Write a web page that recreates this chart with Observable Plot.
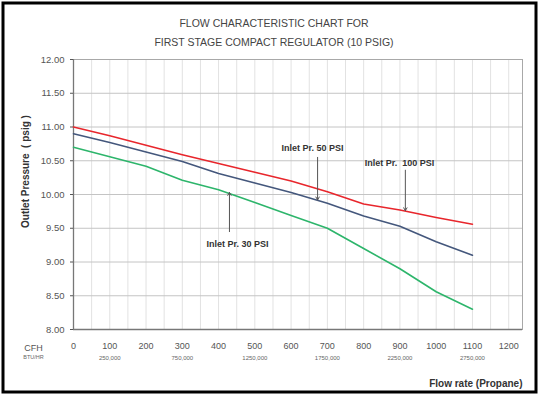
<!DOCTYPE html>
<html>
<head>
<meta charset="utf-8">
<script src="https://cdn.jsdelivr.net/npm/d3@7"></script>
<script src="https://cdn.jsdelivr.net/npm/@observablehq/plot@0.6"></script>
<style>
  html, body { margin: 0; padding: 0; background: #fff; }
  #chart svg { display: block; }
</style>
</head>
<body>
<div id="chart"></div>
<script>
// ---- data ----
const flow = [0, 100, 200, 300, 400, 500, 600, 700, 800, 900, 1000, 1100];
const inlet100 = [11.0, 10.87, 10.73, 10.59, 10.46, 10.33, 10.2, 10.04, 9.86, 9.77, 9.66, 9.56];
const inlet50  = [10.9, 10.77, 10.63, 10.49, 10.31, 10.17, 10.03, 9.87, 9.68, 9.53, 9.3, 9.1];
const inlet30  = [10.7, 10.56, 10.42, 10.21, 10.07, 9.88, 9.69, 9.5, 9.2, 8.9, 8.56, 8.3];
const seriesNames = ["Inlet Pr. 100 PSI", "Inlet Pr. 50 PSI", "Inlet Pr. 30 PSI"];
const seriesColors = ["#e8262c", "#44577c", "#2db56b"];
const xTicks = [0, 100, 200, 300, 400, 500, 600, 700, 800, 900, 1000, 1100, 1200];
const yTicks = [8, 8.5, 9, 9.5, 10, 10.5, 11, 11.5, 12];
const btuAt = [100, 300, 500, 700, 900, 1100];
const btuLabels = ["250,000", "750,000", "1250,000", "1750,000", "2250,000", "2750,000"];
const titleLines = ["FLOW CHARACTERISTIC CHART FOR", "FIRST STAGE COMPACT REGULATOR (10 PSIG)"];
// annotation: [label x, label y, arrow x, arrow from y, arrow to y]
const annX = [659, 899, 452];
const annY = [10.68, 10.46, 9.27];
const arrowX = [673, 915, 430];
const arrowFrom = [10.55, 10.36, 9.45];
const arrowTo = [9.92, 9.76, 10.03];
const annText = ["Inlet Pr. 50 PSI", "Inlet Pr.  100 PSI", "Inlet Pr. 30 PSI"];

const allSeries = [inlet100, inlet50, inlet30];
const rows = allSeries.flatMap((vals, i) => flow.map((f, j) => ({flow: f, p: vals[j], s: seriesNames[i]})));
const anns = annText.map((t, i) => ({t, x: annX[i], y: annY[i], ax: arrowX[i], y1: arrowFrom[i], y2: arrowTo[i]}));
const minorX = d3.range(50, 1201, 50);

const font = "'Liberation Sans', Arial, sans-serif";

const plot = Plot.plot({
  width: 540,
  height: 396,
  marginLeft: 73,
  marginRight: 18,
  marginTop: 59,
  marginBottom: 67,
  style: {fontFamily: font, background: "#fff"},
  x: {domain: [0, 1238]},
  y: {domain: [8, 12]},
  color: {domain: seriesNames, range: seriesColors},
  marks: [
    Plot.ruleX(minorX, {stroke: "#e2e2e2", strokeWidth: 1}),
    Plot.ruleY(yTicks, {stroke: "#c4c4c4", strokeWidth: 1}),
    Plot.frame({stroke: "#a8a8a8"}),
    Plot.ruleX([0], {stroke: "#777", strokeWidth: 1.3}),
    Plot.ruleY([8], {stroke: "#777", strokeWidth: 1.3}),
    Plot.axisY({ticks: yTicks, tickFormat: d3.format(".2f"), tickSize: 3, tickPadding: 6, fontSize: 9.5, color: "#555", label: null}),
    Plot.axisX({ticks: xTicks, tickFormat: d => String(d), tickSize: 0, tickPadding: 13, fontSize: 9, color: "#555", label: null}),
    Plot.text(btuLabels, {x: (d, i) => btuAt[i], y: () => 8, dy: 29, fontSize: 6, fill: "#666"}),
    Plot.text(["CFH"], {frameAnchor: "bottom-left", dx: -40, dy: 19, lineAnchor: "middle", fontSize: 9, fill: "#555", textAnchor: "middle"}),
    Plot.text(["BTU/HR"], {frameAnchor: "bottom-left", dx: -40, dy: 28, lineAnchor: "middle", fontSize: 5.5, fill: "#666", textAnchor: "middle"}),
    Plot.line(rows, {x: "flow", y: "p", stroke: "s", strokeWidth: 1.6}),
    Plot.arrow(anns, {x: "ax", y1: "y1", y2: "y2", stroke: "#555", strokeWidth: 1, headLength: 5}),
    Plot.text(anns, {x: "x", y: "y", text: "t", fontSize: 9, fontWeight: "bold", fill: "#333"}),
    Plot.text([titleLines[0]], {frameAnchor: "top", dx: -24, dy: -36, lineAnchor: "middle", fontSize: 10.5, fill: "#444"}),
    Plot.text([titleLines[1]], {frameAnchor: "top", dx: -24, dy: -17, lineAnchor: "middle", fontSize: 10.5, fill: "#444"}),
    Plot.text(["Outlet Pressure  ( psig )"], {frameAnchor: "left", dx: -48, dy: -23, rotate: -90, textAnchor: "middle", lineAnchor: "middle", fontSize: 10, fontWeight: "bold", fill: "#333"}),
    Plot.text(["Flow rate (Propane)"], {frameAnchor: "bottom-right", dy: 54, textAnchor: "end", lineAnchor: "middle", fontSize: 10, fontWeight: "bold", fill: "#333"})
  ]
});

d3.select(plot).append("rect")
  .attr("x", 3).attr("y", 3).attr("width", 533).attr("height", 389)
  .attr("fill", "none").attr("stroke", "#000").attr("stroke-width", 3);

document.getElementById("chart").append(plot);
</script>
</body>
</html>
